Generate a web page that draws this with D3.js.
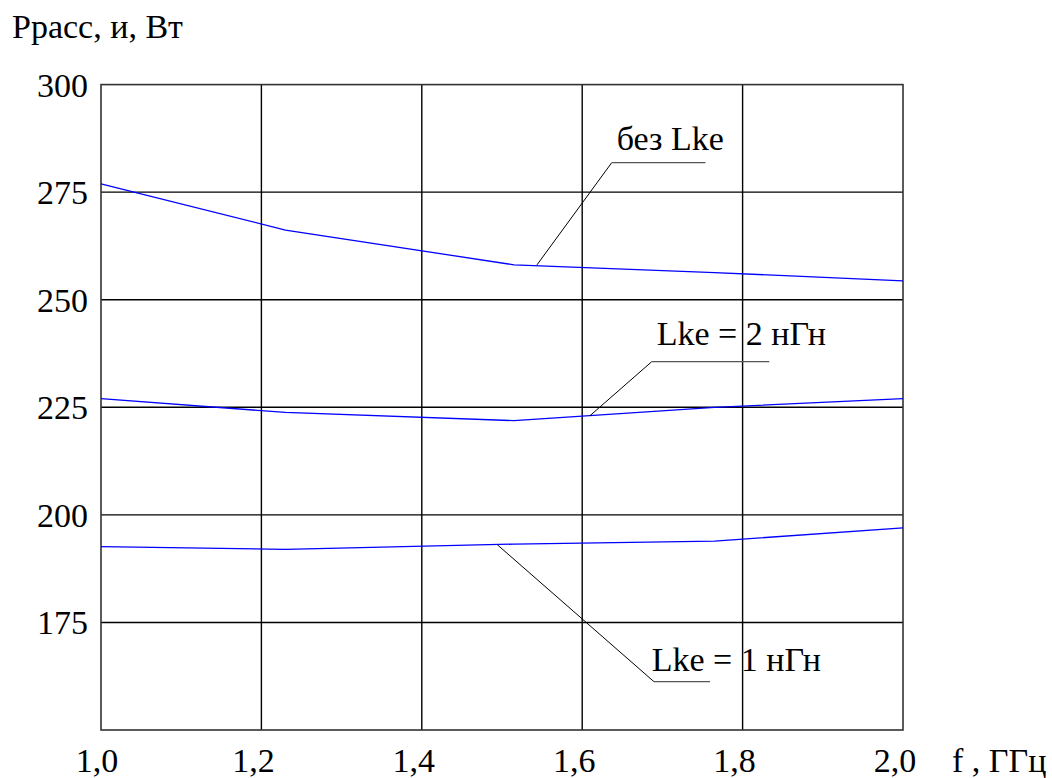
<!DOCTYPE html>
<html>
<head>
<meta charset="utf-8">
<script src="https://cdn.jsdelivr.net/npm/d3@7"></script>
<style>
  body { margin: 0; background: #fff; }
</style>
</head>
<body>
<div id="chart"></div>
<script>
// frequency, GHz
var freq = [1.0, 1.23, 1.515, 1.765, 2.0];
// dissipated power, W
var pNoLke = [276.9, 266.2, 258.1, 256.3, 254.4];
var pLke2 = [227.0, 223.8, 221.9, 225.0, 227.0];
var pLke1 = [192.6, 192.0, 193.2, 193.9, 197.0];

var xTicks = [1.0, 1.2, 1.4, 1.6, 1.8, 2.0];
var yTicks = [175, 200, 225, 250, 275, 300];

// leader annotations, in data units: anchor on curve, elbow, end of shelf, text start
var notes = [
  { text: "без Lke", pts: [[1.5436, 258.1], [1.6368, 281.85], [1.7537, 281.85]], tx: 1.643, ty: 284.8 },
  { text: "Lke = 2 нГн", pts: [[1.6097, 223.05], [1.6867, 235.6], [1.8333, 235.6]], tx: 1.6929, ty: 239.5 },
  { text: "Lke = 1 нГн", pts: [[1.4941, 193.07], [1.6895, 161.23], [1.7594, 161.23]], tx: 1.6867, ty: 163.8 }
];

var width = 1052;
var height = 778;
var margin = { top: 84.6, right: 149, bottom: 48, left: 101 };
var serif = "'Liberation Serif', 'DejaVu Serif', serif";

var svg = d3.select('#chart').append('svg')
  .attr('width', width)
  .attr('height', height)
  .attr('font-family', serif)
  .style('font-family', serif);

var x = d3.scaleLinear().domain([1.0, 2.0]).range([margin.left, width - margin.right]);
var y = d3.scaleLinear().domain([150, 300]).range([height - margin.bottom, margin.top]);

var fmt = function (d) { return d3.format('.1f')(d).replace('.', ','); };

// grid
svg.append('g').selectAll('line').data(xTicks.slice(1, -1)).enter().append('line')
  .attr('x1', function (d) { return x(d); }).attr('x2', function (d) { return x(d); })
  .attr('y1', y(150)).attr('y2', y(300))
  .attr('stroke', '#000').attr('stroke-width', 1.4);

svg.append('g').selectAll('line').data(yTicks.slice(0, -1)).enter().append('line')
  .attr('x1', x(1)).attr('x2', x(2))
  .attr('y1', function (d) { return y(d); }).attr('y2', function (d) { return y(d); })
  .attr('stroke', '#000').attr('stroke-width', 1.4);

// frame
svg.append('rect')
  .attr('x', x(1)).attr('y', y(300))
  .attr('width', x(2) - x(1)).attr('height', y(150) - y(300))
  .attr('fill', 'none').attr('stroke', '#333').attr('stroke-width', 1.6);

// tick labels
svg.append('g').selectAll('text').data(yTicks).enter().append('text')
  .attr('x', x(1) - 13)
  .attr('y', function (d) { return y(d) + 12; })
  .attr('text-anchor', 'end')
  .attr('font-size', 34)
  .text(function (d) { return d; });

svg.append('g').selectAll('text').data(xTicks).enter().append('text')
  .attr('x', function (d, i) { return x(d) - (i === 0 ? 4 : 8); })
  .attr('y', 772)
  .attr('text-anchor', 'middle')
  .attr('font-size', 34)
  .text(fmt);

// axis titles
svg.append('text').attr('x', 12).attr('y', 38).attr('font-size', 34).text('Ррасс, и, Вт');
svg.append('text').attr('x', 952).attr('y', 772).attr('font-size', 34).text('f , ГГц');

// curves
var line = d3.line()
  .x(function (d) { return x(d[0]); })
  .y(function (d) { return y(d[1]); });

[pNoLke, pLke2, pLke1].forEach(function (s) {
  svg.append('path')
    .datum(d3.zip(freq, s))
    .attr('d', line)
    .attr('fill', 'none')
    .attr('stroke', '#0000ff')
    .attr('stroke-width', 1.3);
});

// annotations
notes.forEach(function (n) {
  svg.append('path')
    .attr('d', line(n.pts.slice(0, 2)))
    .attr('stroke', '#000').attr('stroke-width', 1).attr('fill', 'none');
  svg.append('path')
    .attr('d', line(n.pts.slice(1)))
    .attr('stroke', '#555').attr('stroke-width', 1.3).attr('fill', 'none');
  svg.append('text')
    .attr('x', x(n.tx)).attr('y', y(n.ty))
    .attr('font-size', 34)
    .text(n.text);
});
</script>
</body>
</html>
